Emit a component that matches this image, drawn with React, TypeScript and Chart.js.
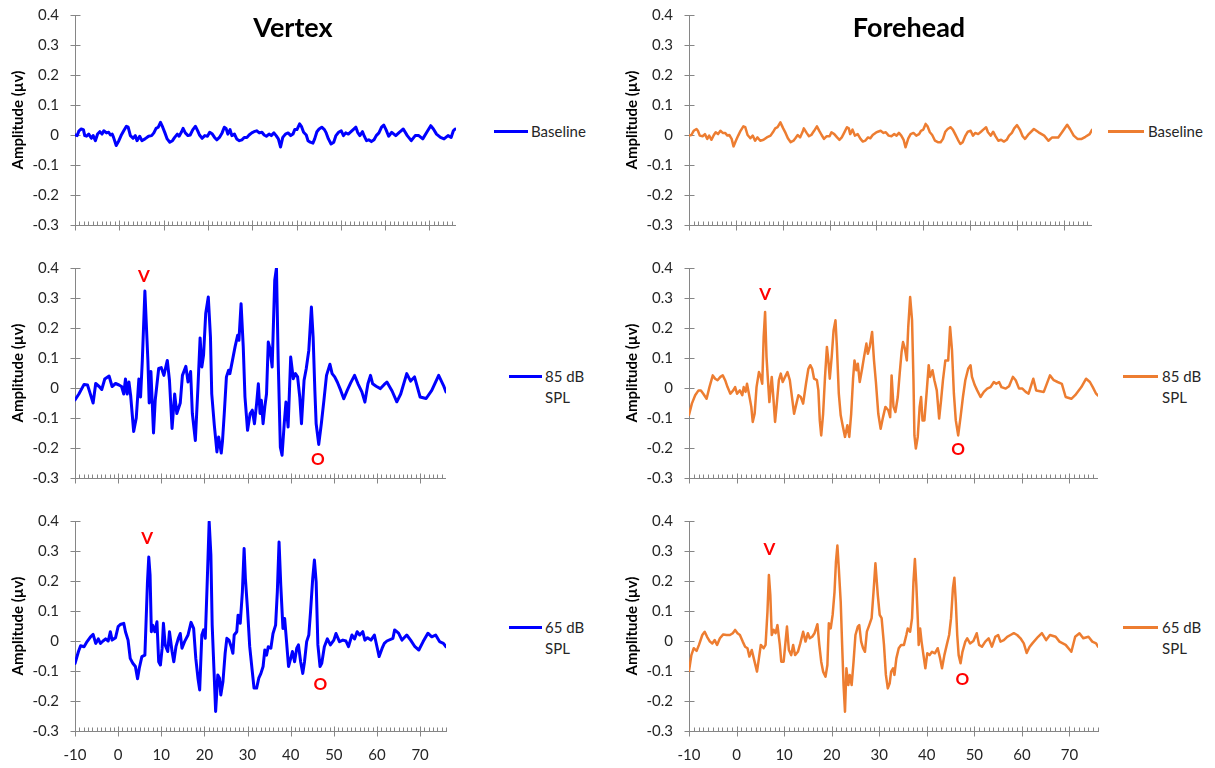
import React, { useEffect, useRef } from 'react';
import { Chart, registerables } from 'chart.js';

Chart.register(...registerables);

const FONT = 'Lato, "Open Sans", "DejaVu Sans", sans-serif';
const BLUE = '#0000FF';
const ORANGE = '#ED7D31';
const AXIS = '#868686';
const TEXT = '#262626';

const X_MIN = -10;
const X_MAX = 76;
const Y_MIN = -0.3;
const Y_MAX = 0.4;
const Y_STEP = 0.1;
const X_MAJOR_STEP = 10;
const Y_TITLE = 'Amplitude (µv)';
const COLUMN_TITLES = ['Vertex', 'Forehead'];
const ROW_LEGENDS = [['Baseline'], ['85 dB', 'SPL'], ['65 dB', 'SPL']];

// ---------- Vertex ----------
const vertexBaselineT = [-10, -9.5, -9.1, -8.6, -8.1, -7.8, -7.4, -6.9, -6.3, -5.9, -5.4, -4.9, -4.4, -3.9, -3.5, -2.9, -2.4, -2.0, -1.6, -1.3, -0.7, -0.1, 0.4, 1.0, 1.6, 2.0, 2.5, 3.1, 3.6, 4.0, 4.6, 5.1, 5.8, 6.6, 7.3, 7.8, 8.3, 8.8, 9.3, 9.8, 10.3, 10.8, 11.4, 12.0, 12.5, 13.1, 13.5, 14.0, 14.4, 14.9, 15.5, 16.0, 16.6, 17.2, 17.7, 18.1, 18.7, 19.3, 19.9, 20.4, 21.0, 21.5, 22.0, 22.6, 23.2, 23.7, 24.1, 24.5, 25.0, 25.4, 26.0, 26.5, 27.1, 27.7, 28.2, 28.8, 29.3, 29.9, 30.4, 31.0, 31.6, 32.2, 32.7, 33.2, 33.8, 34.3, 34.9, 35.4, 35.9, 36.4, 36.9, 37.5, 38.1, 38.7, 39.2, 39.6, 40.1, 40.7, 41.1, 41.6, 42.2, 42.6, 43.1, 43.7, 44.1, 44.6, 45.1, 45.7, 46.3, 46.7, 47.2, 47.8, 48.4, 48.9, 49.5, 50.1, 50.6, 51.1, 51.7, 52.3, 52.8, 53.4, 53.8, 54.3, 54.9, 55.3, 55.8, 56.3, 56.9, 57.5, 58.0, 58.6, 59.2, 59.7, 60.2, 60.8, 61.5, 62.4, 63.2, 64.1, 65.0, 65.9, 66.8, 67.6, 68.5, 69.4, 70.3, 70.9, 71.6, 72.5, 73.3, 74.2, 74.9, 75.4, 75.8];
const vertexBaselineV = [0, -0.002, 0.014, 0.02, 0.018, -0.002, -0.004, 0.003, -0.011, -0.002, -0.019, 0.003, 0.011, 0.003, 0.014, 0.007, 0.009, 0, 0.003, -0.008, -0.035, -0.019, -0.002, 0.014, 0.029, 0.026, -0.002, -0.011, -0.002, -0.019, -0.004, -0.019, -0.013, -0.004, -0.002, 0.007, 0.022, 0.026, 0.042, 0.026, 0.007, -0.013, -0.024, -0.019, -0.008, 0.003, -0.004, 0.009, 0.022, 0.007, -0.002, 0, 0.018, 0.029, 0.014, 0, -0.011, -0.002, -0.004, 0.009, 0.003, -0.008, -0.016, -0.008, 0.007, 0.026, 0.022, 0.003, 0.018, -0.002, 0.003, -0.013, -0.019, -0.016, -0.008, -0.008, 0, 0.007, 0.011, 0.014, 0.007, 0.009, 0, -0.004, 0.003, -0.002, 0.007, -0.002, -0.013, -0.04, -0.008, 0.003, 0.007, -0.002, 0.003, 0.018, 0.018, 0.037, 0.029, 0.009, 0, -0.019, -0.024, -0.027, -0.013, 0.011, 0.02, 0.026, 0.018, 0.007, -0.013, -0.03, -0.024, -0.002, 0.009, 0.014, -0.002, 0.007, 0.003, 0.011, 0.018, 0.026, 0.009, -0.002, 0.011, -0.004, -0.019, -0.016, -0.022, -0.016, -0.002, 0.007, 0.026, 0.033, 0.018, -0.004, 0.009, -0.002, 0.009, 0.02, -0.002, -0.019, -0.002, -0.002, -0.013, 0.009, 0.031, 0.02, 0.003, -0.008, -0.013, -0.002, -0.008, 0.014, 0.02];

const vertex85T = [-10, -9.1, -7.9, -7.1, -6.6, -5.8, -5.2, -4.4, -3.8, -3.1, -2.1, -1.4, -0.6, 0.2, 0.8, 1.3, 1.7, 2.1, 2.5, 2.9, 3.6, 4.2, 4.8, 5.2, 5.6, 6.2, 6.6, 6.9, 7.2, 7.6, 8.2, 8.6, 9.4, 10.0, 10.6, 11.4, 11.9, 12.5, 13.1, 13.6, 14.4, 14.9, 15.7, 16.2, 16.8, 17.2, 17.9, 18.5, 19.0, 19.4, 19.8, 20.3, 20.9, 21.4, 21.7, 22.3, 22.9, 23.3, 23.9, 24.2, 24.6, 25.1, 25.6, 25.9, 26.5, 27.1, 27.7, 28.0, 28.5, 29.0, 29.4, 30.0, 30.6, 31.1, 31.6, 32.1, 32.5, 32.9, 33.2, 33.6, 34.0, 34.4, 34.8, 35.2, 35.7, 36.3, 36.7, 37.1, 37.6, 38.0, 38.5, 38.9, 39.4, 40.0, 40.6, 41.1, 41.6, 42.1, 42.5, 43.1, 43.6, 44.2, 44.8, 45.2, 45.6, 45.9, 46.5, 47.1, 47.7, 48.3, 49.1, 49.6, 50.2, 50.8, 51.6, 52.3, 53.1, 53.9, 54.8, 55.6, 56.5, 57.2, 57.9, 58.5, 59.0, 59.8, 60.8, 61.7, 62.3, 63.5, 64.6, 65.5, 66.9, 67.8, 68.7, 70.0, 71.4, 72.7, 74.3, 75.4, 76];
const vertex85V = [-0.04, -0.02, 0.012, 0.01, -0.013, -0.05, 0.015, 0.005, -0.005, 0.03, 0.04, 0.005, 0.015, 0.01, 0.005, -0.02, 0.03, -0.02, 0.02, -0.025, -0.145, -0.1, 0.03, -0.03, 0.09, 0.323, 0.19, 0.09, -0.05, 0.055, -0.15, -0.04, 0.065, 0.068, 0.042, 0.092, 0.025, -0.135, -0.02, -0.085, -0.05, 0.042, 0.072, 0.02, 0.055, -0.085, -0.175, 0.003, 0.167, 0.07, 0.11, 0.248, 0.303, 0.17, -0.02, -0.125, -0.213, -0.163, -0.217, -0.175, -0.085, 0.037, 0.059, 0.048, 0.092, 0.137, 0.176, 0.159, 0.281, 0.137, -0.03, -0.141, -0.085, -0.074, -0.119, -0.052, 0.014, -0.085, -0.041, -0.119, -0.063, -0.019, 0.153, 0.131, 0.07, 0.359, 0.4, 0.092, -0.197, -0.224, -0.119, -0.047, -0.13, 0.103, 0.031, 0.048, 0.037, -0.03, -0.119, 0.026, 0.064, 0.126, 0.27, 0.17, -0.008, -0.119, -0.188, -0.119, -0.041, 0.042, 0.079, 0.048, 0.037, 0.02, -0.008, -0.036, -0.008, 0.017, 0.042, 0.014, -0.013, -0.047, 0.014, 0.042, 0.014, 0.006, -0.002, 0.012, 0.02, -0.01, -0.046, -0.02, 0.048, 0.023, 0.037, -0.03, -0.035, -0.008, 0.042, 0.009, -0.013];

const vertex65T = [-10, -9.2, -8.7, -7.9, -7.2, -6.4, -5.8, -5.2, -4.6, -4.1, -3.5, -2.9, -2.3, -1.8, -1.4, -0.6, 0.0, 0.5, 1.3, 1.7, 2.3, 2.8, 3.4, 4.0, 4.5, 4.9, 5.5, 6.2, 6.5, 6.8, 7.1, 7.4, 7.7, 8.0, 8.5, 9.0, 9.4, 9.8, 10.2, 10.5, 10.9, 11.5, 11.9, 12.5, 12.9, 13.4, 14.0, 14.4, 14.8, 15.4, 16.2, 16.9, 17.5, 18.0, 18.5, 18.9, 19.4, 19.8, 20.2, 20.6, 21.1, 21.5, 21.8, 22.2, 22.6, 23.1, 23.5, 23.8, 24.3, 24.8, 25.2, 25.7, 26.2, 26.6, 26.9, 27.5, 27.8, 28.3, 28.8, 29.2, 29.5, 30.0, 30.5, 31.1, 31.5, 32.1, 32.6, 33.1, 33.6, 34.0, 34.4, 34.8, 35.4, 35.9, 36.5, 36.9, 37.3, 37.7, 38.2, 38.6, 39.1, 39.5, 40.0, 40.4, 40.9, 41.4, 41.8, 42.3, 42.8, 43.2, 43.7, 44.2, 44.6, 45.1, 45.5, 45.9, 46.3, 46.8, 47.2, 47.8, 48.5, 49.2, 50.0, 50.5, 51.3, 52.1, 52.8, 53.4, 54.2, 54.8, 55.4, 56.0, 56.7, 57.2, 57.8, 58.6, 59.4, 60.0, 60.5, 61.2, 61.7, 62.3, 63.7, 64.1, 65.0, 65.8, 66.9, 67.8, 68.8, 69.7, 70.7, 71.8, 72.7, 73.6, 74.5, 75.4, 76];
const vertex65V = [-0.075, -0.035, -0.016, -0.019, -0.002, 0.014, 0.022, -0.008, 0.007, -0.008, 0, 0.007, 0, 0.031, 0.003, 0.011, 0.048, 0.055, 0.059, 0.031, 0.003, -0.058, -0.074, -0.085, -0.126, -0.091, -0.052, -0.047, 0.075, 0.197, 0.28, 0.22, 0.031, 0.053, 0.031, 0.064, -0.069, -0.08, -0.024, 0.059, -0.013, -0.035, 0.031, -0.035, -0.069, -0.019, 0.011, 0.025, -0.024, -0.002, 0.02, 0.062, 0.042, -0.058, -0.124, -0.163, 0.02, 0.037, 0.009, 0.175, 0.397, 0.286, 0.053, -0.091, -0.235, -0.113, -0.124, -0.18, -0.135, -0.041, 0.009, 0.003, -0.019, -0.041, 0.02, 0.031, 0.086, 0.059, 0.164, 0.308, 0.208, 0.103, -0.019, -0.102, -0.157, -0.157, -0.124, -0.108, -0.085, -0.03, -0.047, -0.019, -0.024, 0.025, 0.053, 0.164, 0.33, 0.186, 0.042, 0.075, -0.013, -0.085, -0.058, -0.035, -0.069, -0.024, -0.013, -0.069, -0.108, -0.069, -0.002, 0.02, 0.098, 0.208, 0.27, 0.197, -0.013, -0.085, -0.074, -0.019, 0.007, -0.013, 0.003, 0.025, -0.002, 0.003, 0, -0.019, 0.02, 0.007, 0.031, 0.02, 0.031, 0.003, 0.011, 0.003, 0.02, -0.019, -0.052, -0.024, -0.008, 0, 0.009, 0.037, 0.026, 0.003, 0.02, 0.003, -0.019, -0.03, -0.002, 0.026, 0.014, 0.02, -0.002, -0.008, -0.019];

// ---------- Forehead ----------
const foreheadBaselineT = [-10, -9.5, -9.0, -8.4, -8.1, -7.7, -7.1, -6.6, -6.1, -5.7, -5.2, -4.7, -4.3, -3.8, -3.3, -2.8, -2.3, -1.8, -1.4, -0.9, -0.5, 0.0, 0.5, 1.0, 1.6, 2.0, 2.5, 3.1, 3.6, 4.1, 4.6, 5.2, 5.9, 6.6, 7.4, 7.9, 8.4, 8.9, 9.5, 10.1, 10.6, 11.1, 11.7, 12.3, 12.7, 13.2, 13.7, 14.2, 14.5, 15.1, 15.6, 16.1, 16.7, 17.3, 17.8, 18.3, 18.8, 19.4, 20.0, 20.4, 21.0, 21.6, 22.1, 22.6, 23.1, 23.7, 24.1, 24.4, 24.9, 25.4, 26.0, 26.6, 27.1, 27.6, 28.2, 28.7, 29.2, 29.8, 30.3, 30.9, 31.5, 32.0, 32.6, 33.2, 33.8, 34.3, 34.8, 35.3, 35.8, 36.2, 36.8, 37.3, 37.9, 38.5, 39.1, 39.5, 40.0, 40.5, 40.9, 41.4, 41.9, 42.5, 43.1, 43.7, 44.2, 44.7, 45.2, 45.8, 46.3, 46.8, 47.4, 47.9, 48.4, 49.0, 49.5, 50.1, 50.6, 51.1, 51.7, 52.3, 52.8, 53.4, 53.8, 54.4, 54.9, 55.4, 56.0, 56.6, 57.2, 57.8, 58.3, 58.9, 59.4, 60.0, 60.6, 61.2, 61.7, 62.5, 63.6, 64.6, 65.8, 66.7, 67.5, 68.8, 69.6, 70.7, 71.3, 72.1, 72.9, 73.8, 74.6, 75.5, 76];
const foreheadBaselineV = [-0.002, 0, 0.014, 0.02, 0.014, -0.002, -0.004, 0.003, -0.013, -0.002, -0.016, 0, 0.009, 0.003, 0.014, 0.007, 0.007, -0.002, 0, -0.013, -0.038, -0.019, -0.002, 0.014, 0.029, 0.026, 0, -0.011, -0.002, -0.019, -0.008, -0.019, -0.016, -0.008, -0.002, 0.009, 0.022, 0.026, 0.042, 0.022, 0.007, -0.011, -0.024, -0.019, -0.011, 0, -0.008, 0.009, 0.022, 0.007, -0.004, 0, 0.014, 0.029, 0.014, 0, -0.013, -0.004, -0.004, 0.009, 0.003, -0.008, -0.016, -0.008, 0.007, 0.026, 0.022, 0.003, 0.018, -0.002, 0.003, -0.013, -0.022, -0.019, -0.008, -0.011, 0, 0.007, 0.011, 0.014, 0.007, 0.009, -0.002, -0.004, 0.003, -0.002, 0.007, -0.002, -0.016, -0.041, -0.011, 0.003, 0.007, -0.002, 0.003, 0.014, 0.018, 0.037, 0.029, 0.009, 0, -0.019, -0.024, -0.024, -0.013, 0.011, 0.02, 0.026, 0.018, 0.003, -0.016, -0.03, -0.024, -0.002, 0.011, 0.014, -0.002, 0.007, 0.003, 0.011, 0.018, 0.026, 0.009, -0.002, 0.011, -0.004, -0.019, -0.016, -0.022, -0.016, -0.002, 0.007, 0.022, 0.033, 0.018, -0.004, -0.013, 0.003, 0.02, 0.009, -0.002, -0.019, -0.008, -0.008, 0.009, 0.034, 0.02, -0.002, -0.013, -0.013, -0.006, 0.003, 0.017];

const forehead85T = [-10, -9.4, -8.7, -8.0, -7.5, -7.0, -6.3, -5.7, -5.0, -4.5, -4.0, -3.4, -2.9, -2.4, -1.9, -1.3, -0.7, -0.3, 0.1, 0.7, 1.2, 1.5, 1.9, 2.2, 2.6, 3.1, 3.4, 3.8, 4.2, 4.7, 5.0, 5.4, 5.7, 6.0, 6.3, 6.6, 6.9, 7.4, 7.7, 8.1, 8.4, 8.9, 9.3, 9.7, 10.2, 10.7, 11.2, 11.7, 12.1, 12.5, 13.0, 13.5, 14.0, 14.6, 15.1, 15.5, 15.9, 16.3, 16.9, 17.2, 17.5, 17.8, 18.2, 18.6, 19.0, 19.3, 19.6, 20.0, 20.4, 20.8, 21.1, 21.5, 21.9, 22.3, 22.8, 23.3, 23.7, 24.1, 24.5, 24.8, 25.2, 25.5, 25.9, 26.4, 26.8, 27.3, 27.6, 28.0, 28.5, 28.9, 29.3, 29.8, 30.3, 30.8, 31.3, 31.9, 32.3, 32.6, 33.0, 33.4, 33.9, 34.3, 34.7, 35.0, 35.4, 35.8, 36.1, 36.5, 36.9, 37.2, 37.4, 37.7, 38.1, 38.5, 38.8, 39.1, 39.5, 40.0, 40.4, 40.7, 41.2, 41.6, 42.1, 42.6, 43.0, 43.4, 43.9, 44.5, 44.9, 45.3, 45.7, 46.1, 46.6, 47.1, 47.6, 48.1, 48.7, 49.2, 49.5, 50.1, 50.6, 51.3, 52.0, 52.7, 53.4, 54.1, 54.6, 55.2, 55.7, 56.6, 57.3, 58.1, 58.7, 59.4, 60.1, 60.8, 61.4, 62.4, 63.0, 64.6, 65.9, 66.7, 67.5, 68.4, 69.2, 70.4, 71.2, 72.5, 73.5, 74.3, 74.9, 75.6, 76];
const forehead85V = [-0.09, -0.052, -0.024, -0.008, -0.008, -0.019, -0.036, 0.003, 0.042, 0.031, 0.026, 0.037, 0.042, 0.026, 0.003, -0.019, -0.008, 0.003, -0.019, -0.008, -0.024, 0.003, -0.013, 0.014, -0.019, -0.063, -0.113, -0.086, 0.003, 0.053, 0.042, 0.014, 0.17, 0.253, 0.103, 0.026, -0.047, 0.037, -0.024, -0.113, -0.063, 0.026, 0.048, 0.02, 0.037, 0.053, 0.026, -0.036, -0.086, -0.058, -0.024, -0.03, -0.052, 0.014, 0.064, 0.076, 0.064, 0.031, 0.026, -0.008, -0.108, -0.158, -0.086, 0.037, 0.137, 0.092, 0.031, 0.103, 0.192, 0.226, 0.137, -0.019, -0.091, -0.124, -0.163, -0.124, -0.163, -0.086, 0.031, 0.092, 0.059, 0.081, 0.02, 0.064, 0.103, 0.148, 0.114, 0.137, 0.187, 0.092, 0.02, -0.086, -0.136, -0.097, -0.063, -0.074, -0.097, 0.042, -0.063, -0.08, -0.03, 0.048, 0.12, 0.153, 0.131, 0.092, 0.203, 0.303, 0.226, 0.026, -0.158, -0.202, -0.163, -0.063, -0.03, -0.108, -0.108, -0.008, 0.076, 0.037, 0.059, 0.026, -0.008, -0.102, -0.041, 0.026, 0.092, 0.092, 0.203, 0.126, -0.019, -0.108, -0.158, -0.097, -0.03, 0.026, 0.064, 0.076, 0.037, 0.009, -0.008, -0.03, -0.013, -0.002, 0.003, 0.02, 0.014, 0.02, 0.003, -0.002, 0.006, 0.037, 0.026, -0.002, -0.002, -0.013, -0.019, 0.031, -0.008, -0.013, 0.042, 0.026, 0.02, 0.014, -0.03, -0.036, -0.024, 0.003, 0.031, 0.02, 0.003, -0.019, -0.025];

const forehead65T = [-10, -9.5, -9.0, -8.4, -7.9, -7.2, -6.7, -6.2, -5.6, -5.1, -4.6, -4.1, -3.5, -2.8, -2.1, -1.4, -0.8, -0.3, 0.2, 0.7, 1.3, 1.8, 2.3, 2.7, 3.2, 3.7, 4.3, 4.7, 5.1, 5.7, 6.1, 6.5, 6.8, 7.1, 7.4, 7.8, 8.2, 8.6, 9.1, 9.4, 9.9, 10.3, 10.6, 11.0, 11.5, 11.9, 12.3, 12.9, 13.4, 14.0, 14.5, 15.0, 15.4, 15.9, 16.4, 17.0, 17.4, 17.8, 18.2, 18.7, 19.1, 19.4, 19.8, 20.2, 20.6, 20.9, 21.2, 21.5, 21.9, 22.2, 22.5, 22.8, 23.1, 23.5, 23.8, 24.2, 24.6, 25.0, 25.5, 25.8, 26.2, 26.6, 27.0, 27.4, 27.9, 28.4, 28.8, 29.2, 29.7, 30.1, 30.5, 31.0, 31.4, 31.8, 32.2, 32.5, 32.9, 33.2, 33.6, 34.1, 34.6, 35.2, 35.7, 36.0, 36.5, 36.9, 37.2, 37.5, 37.8, 38.1, 38.3, 38.6, 38.9, 39.3, 39.7, 40.1, 40.6, 41.1, 41.7, 42.3, 42.8, 43.2, 43.7, 44.2, 44.7, 45.1, 45.5, 45.8, 46.1, 46.4, 46.7, 47.1, 47.5, 48.1, 48.5, 49.1, 49.8, 50.5, 51.0, 51.6, 52.3, 53.0, 53.7, 54.4, 55.0, 55.5, 56.2, 56.9, 57.6, 58.3, 59.0, 59.7, 60.4, 61.0, 61.6, 62.2, 63.4, 64.2, 65.1, 65.9, 67.1, 67.9, 69.2, 70.4, 71.2, 72.1, 72.9, 74.0, 74.8, 75.6, 76];
const forehead65V = [-0.1, -0.047, -0.024, -0.033, -0.013, 0.02, 0.031, 0.014, -0.002, -0.008, 0.003, -0.013, 0.009, 0.022, 0.02, 0.02, 0.026, 0.037, 0.026, 0.02, -0.002, -0.019, -0.024, -0.052, -0.03, -0.063, -0.102, -0.058, -0.013, -0.024, -0.013, 0.098, 0.22, 0.153, 0.02, 0.037, 0.026, 0.053, -0.013, -0.069, -0.069, -0.002, 0.048, -0.03, -0.047, -0.013, -0.047, -0.036, -0.008, 0.031, -0.002, 0.026, 0.009, 0.014, 0.026, 0.056, -0.013, -0.069, -0.102, -0.119, -0.08, 0.059, 0.042, 0.087, 0.164, 0.264, 0.318, 0.242, 0.131, -0.013, -0.147, -0.236, -0.091, -0.147, -0.113, -0.147, -0.069, 0.02, 0.048, 0.053, -0.002, -0.024, -0.036, 0.031, 0.053, 0.076, 0.164, 0.259, 0.153, 0.087, 0.076, -0.013, -0.113, -0.158, -0.141, -0.102, -0.091, -0.113, -0.058, -0.024, -0.013, -0.013, 0.02, 0.042, 0.031, 0.076, 0.198, 0.273, 0.187, 0.076, -0.013, 0.042, -0.002, -0.047, -0.091, -0.041, -0.047, -0.036, -0.041, -0.024, -0.058, -0.091, -0.047, -0.013, 0.02, 0.076, 0.176, 0.211, 0.131, 0.02, -0.047, -0.074, -0.036, -0.002, 0.009, -0.008, 0, 0.026, -0.013, -0.019, -0.002, 0.009, -0.019, 0.014, 0.02, -0.002, 0.003, 0.014, 0.02, 0.026, 0.02, 0.009, -0.008, -0.04, -0.02, -0.008, 0.014, 0.026, 0.003, 0.02, 0.014, -0.002, -0.013, -0.036, 0.014, 0.026, 0.009, 0.014, -0.002, -0.008, -0.019];

// ---------- Peak labels (data coordinates) ----------
const peakLabels = ['V', 'O'];
const vertex85PeakT = [6.0, 46.3];
const vertex85PeakV = [0.372, -0.237];
const vertex65PeakT = [6.7, 46.9];
const vertex65PeakV = [0.341, -0.145];
const forehead85PeakT = [6.0, 46.6];
const forehead85PeakV = [0.31, -0.205];
const forehead65PeakT = [6.9, 47.5];
const forehead65PeakV = [0.305, -0.128];

const fmtY = (v: number) => {
  const r = Math.round(v * 10) / 10;
  return r === 0 ? '0' : String(r);
};

const axisTicksPlugin = {
  id: 'axisTicks',
  beforeDatasetsDraw(chart: any) {
    const { ctx, chartArea, scales } = chart;
    const xs = scales.x;
    const ys = scales.y;
    ctx.save();
    ctx.strokeStyle = AXIS;
    ctx.lineWidth = 1;
    ctx.beginPath();
    const ax = Math.round(chartArea.left) + 0.5;
    ys.ticks.forEach((t: any) => {
      const py = Math.round(ys.getPixelForValue(t.value)) + 0.5;
      ctx.moveTo(ax - 5, py);
      ctx.lineTo(ax + 5, py);
    });
    const by = Math.round(chartArea.bottom) + 0.5;
    xs.ticks.forEach((t: any) => {
      const px = Math.round(xs.getPixelForValue(t.value)) + 0.5;
      const major = Math.abs(t.value % X_MAJOR_STEP) < 1e-9;
      if (major) {
        ctx.moveTo(px, by - 5);
        ctx.lineTo(px, by + 5);
      } else {
        ctx.moveTo(px, by - 4);
        ctx.lineTo(px, by);
      }
    });
    ctx.stroke();
    ctx.restore();
  },
};

const peakLabelPlugin = {
  id: 'peakLabels',
  afterDatasetsDraw(chart: any, _args: any, opts: any) {
    if (!opts || !opts.t) return;
    const { ctx, scales } = chart;
    ctx.save();
    ctx.font = `bold 17px ${FONT}`;
    ctx.fillStyle = '#FF0000';
    ctx.textAlign = 'center';
    ctx.textBaseline = 'middle';
    opts.labels.forEach((lab: string, i: number) => {
      ctx.fillText(lab, scales.x.getPixelForValue(opts.t[i]), scales.y.getPixelForValue(opts.v[i]));
    });
    ctx.restore();
  },
};

// every panel: 27px padding above and an x-axis box of at least 27px below
const PAD = 27;
const X_LABEL_PAD = 15;

type PanelProps = {
  left: number;
  plotTop: number;
  plotRight: number;
  showX: boolean;
  t: number[];
  v: number[];
  color: string;
  lineWidth: number;
  peakT?: number[];
  peakV?: number[];
};

function Panel(p: PanelProps) {
  const ref = useRef<HTMLCanvasElement>(null);
  const xAxisH = p.showX ? 32 : PAD;
  const height = PAD + 210 + xAxisH;
  const top = p.plotTop - PAD;
  // Chart.js adds the tick-label padding to the right of a labelled x axis
  const width = p.plotRight - p.left + (p.showX ? X_LABEL_PAD : 0);
  useEffect(() => {
    const chart = new Chart(ref.current as HTMLCanvasElement, {
      type: 'line',
      data: {
        datasets: [
          {
            data: p.t.map((x, i) => ({ x, y: p.v[i] })),
            borderColor: p.color,
            borderWidth: p.lineWidth,
            pointRadius: 0,
            tension: 0,
            fill: false,
            borderJoinStyle: 'round',
            borderCapStyle: 'round',
          } as any,
        ],
      },
      options: {
        responsive: false,
        animation: false,
        devicePixelRatio: 1,
        events: [],
        layout: { padding: { top: PAD, left: 0, right: 0, bottom: 0 } },
        plugins: {
          legend: { display: false },
          tooltip: { enabled: false },
          peakLabels: p.peakT ? { labels: peakLabels, t: p.peakT, v: p.peakV } : {},
        } as any,
        scales: {
          x: {
            type: 'linear',
            min: X_MIN,
            max: X_MAX,
            grid: { display: false, drawTicks: false },
            border: { display: true, color: AXIS, width: 1 },
            ticks: {
              display: p.showX,
              stepSize: 1,
              includeBounds: false,
              autoSkip: false,
              maxRotation: 0,
              padding: X_LABEL_PAD,
              color: TEXT,
              font: { family: FONT, size: 15 },
              callback: (val: any) => (Math.abs(Number(val) % X_MAJOR_STEP) < 1e-9 ? String(val) : ''),
            },
            afterFit: (s: any) => {
              s.height = xAxisH;
            },
          },
          y: {
            type: 'linear',
            min: Y_MIN,
            max: Y_MAX,
            grid: { display: false, drawTicks: false },
            border: { display: true, color: AXIS, width: 1 },
            ticks: {
              stepSize: Y_STEP,
              padding: 16,
              color: TEXT,
              font: { family: FONT, size: 15 },
              callback: (val: any) => fmtY(Number(val)),
            },
            title: {
              display: true,
              text: Y_TITLE,
              color: '#000',
              font: { family: FONT, size: 15, weight: 'bold' },
              padding: { top: 9, bottom: 0 },
            },
            afterFit: (s: any) => {
              s.width = 75;
            },
          },
        } as any,
      },
      plugins: [axisTicksPlugin, peakLabelPlugin],
    });
    return () => chart.destroy();
  }, []);
  return (
    <canvas
      ref={ref}
      width={width}
      height={height}
      style={{ position: 'absolute', left: p.left, top, width, height }}
    />
  );
}

function Legend({ lineLeft, lineRight, y, textLeft, color, lines }: any) {
  return (
    <>
      <div
        style={{
          position: 'absolute',
          left: lineLeft,
          top: y - 1.5,
          width: lineRight - lineLeft,
          height: 3,
          background: color,
        }}
      />
      <div
        style={{
          position: 'absolute',
          left: textLeft,
          top: y - 10.5,
          font: `15px ${FONT}`,
          lineHeight: '21px',
          color: TEXT,
          whiteSpace: 'nowrap',
        }}
      >
        {lines.map((l: string, i: number) => (
          <div key={i}>{l}</div>
        ))}
      </div>
    </>
  );
}

function Title({ cx, text }: { cx: number; text: string }) {
  return (
    <div
      style={{
        position: 'absolute',
        left: cx - 150,
        width: 300,
        top: 11,
        textAlign: 'center',
        font: `bold 27px ${FONT}`,
        lineHeight: '32px',
        color: '#000',
      }}
    >
      {text}
    </div>
  );
}

export default function App() {
  return (
    <div
      style={{
        position: 'absolute',
        left: 0,
        top: 0,
        width: 1215,
        height: 768,
        background: '#fff',
        overflow: 'hidden',
      }}
    >
      {/* Vertex column */}
      <Panel left={0} plotTop={15} plotRight={456} showX={false} t={vertexBaselineT} v={vertexBaselineV} color={BLUE} lineWidth={3} />
      <Panel left={0} plotTop={268} plotRight={446} showX={false} t={vertex85T} v={vertex85V} color={BLUE} lineWidth={3} peakT={vertex85PeakT} peakV={vertex85PeakV} />
      <Panel left={0} plotTop={521} plotRight={446} showX={true} t={vertex65T} v={vertex65V} color={BLUE} lineWidth={3} peakT={vertex65PeakT} peakV={vertex65PeakV} />
      {/* Forehead column */}
      <Panel left={614} plotTop={15} plotRight={1092} showX={false} t={foreheadBaselineT} v={foreheadBaselineV} color={ORANGE} lineWidth={2.5} />
      <Panel left={614} plotTop={268} plotRight={1098} showX={false} t={forehead85T} v={forehead85V} color={ORANGE} lineWidth={2.5} peakT={forehead85PeakT} peakV={forehead85PeakV} />
      <Panel left={614} plotTop={521} plotRight={1098} showX={true} t={forehead65T} v={forehead65V} color={ORANGE} lineWidth={2.5} peakT={forehead65PeakT} peakV={forehead65PeakV} />

      <Title cx={293} text={COLUMN_TITLES[0]} />
      <Title cx={909} text={COLUMN_TITLES[1]} />

      <Legend lineLeft={494} lineRight={528} y={131.5} textLeft={531} color={BLUE} lines={ROW_LEGENDS[0]} />
      <Legend lineLeft={509} lineRight={542} y={376} textLeft={545} color={BLUE} lines={ROW_LEGENDS[1]} />
      <Legend lineLeft={509} lineRight={542} y={627.5} textLeft={545} color={BLUE} lines={ROW_LEGENDS[2]} />
      <Legend lineLeft={1108} lineRight={1144} y={131.5} textLeft={1148} color={ORANGE} lines={ROW_LEGENDS[0]} />
      <Legend lineLeft={1123} lineRight={1158} y={376} textLeft={1162} color={ORANGE} lines={ROW_LEGENDS[1]} />
      <Legend lineLeft={1123} lineRight={1158} y={627.5} textLeft={1162} color={ORANGE} lines={ROW_LEGENDS[2]} />
    </div>
  );
}
